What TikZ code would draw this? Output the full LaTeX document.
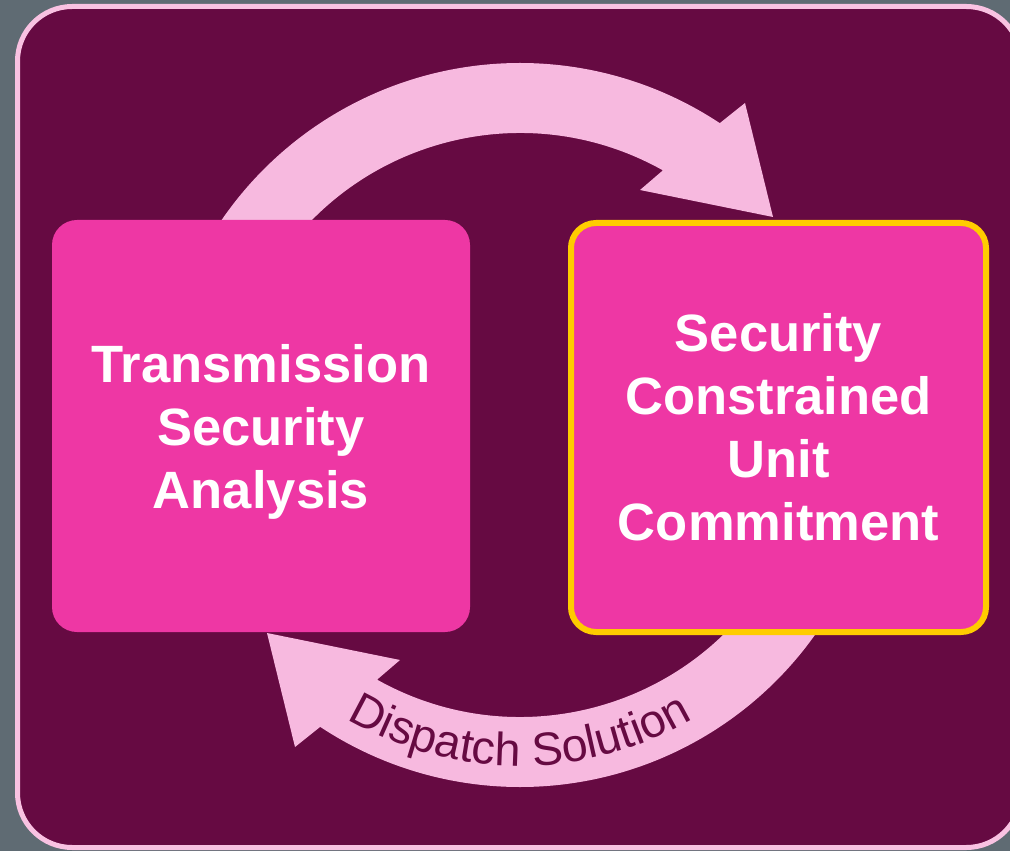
\documentclass[tikz,border=0pt]{standalone}
\usepackage{fontspec}
\setmainfont{Liberation Sans}
\usetikzlibrary{decorations.text}
\definecolor{bgGray}{HTML}{5F6B73}
\definecolor{maroonbg}{HTML}{660A42}
\definecolor{framePink}{HTML}{F9C2E2}
\definecolor{arrowPink}{HTML}{F7B9DF}
\definecolor{boxPink}{HTML}{EE37A4}
\definecolor{boxGold}{HTML}{FFCC00}
\begin{document}
\begin{tikzpicture}[x=0.75pt,y=0.75pt,
  boxnode/.style={rectangle, rounded corners=18.75pt, fill=boxPink, text=white,
    font=\bfseries\fontsize{39.4}{47.25}\selectfont, align=center, inner sep=0pt},
  cyclearrow/.style={fill=arrowPink, draw=none}]
\fill[bgGray] (0,0) rectangle (1010,851);
\useasboundingbox (0,0) rectangle (1010,851);
\draw[framePink, line width=3.75pt, fill=maroonbg, rounded corners=41pt] (17.5,3.5) rectangle (1021,844.5);
% upper cycle arrow
\begin{scope}[shift={(520,426)}]
  \fill[cyclearrow] (150:362) arc[start angle=150,end angle=56.5,radius=362]
    -- (225,322) -- (253,208) -- (120,235) -- (60.7:292)
    arc[start angle=60.7,end angle=150,radius=292] -- cycle;
\end{scope}
% lower cycle arrow
\begin{scope}[shift={(520,426)}, rotate=180]
  \fill[cyclearrow] (150:362) arc[start angle=150,end angle=56.5,radius=362]
    -- (225,322) -- (253,208) -- (120,235) -- (60.7:292)
    arc[start angle=60.7,end angle=150,radius=292] -- cycle;
\end{scope}
% label along lower arrow
\begin{scope}[shift={(520,426)}]
  \path[decorate, decoration={text along path, text align=center,
    text={|\color{maroonbg}\fontsize{35}{42}\selectfont|Dispatch Solution}}]
    (228:341) arc[start angle=228,end angle=312,radius=341];
\end{scope}
% boxes
\node[boxnode, minimum width=313.5pt, minimum height=309pt, text depth=0pt] (tsa) at (261,425)
  {Transmission\\Security\\Analysis};
\node[boxnode, draw=boxGold, line width=4.5pt, minimum width=311.25pt, minimum height=306.75pt] (scuc) at (778.5,423.5)
  {Security\\Constrained\\Unit\\Commitment};
\end{tikzpicture}
\end{document}
